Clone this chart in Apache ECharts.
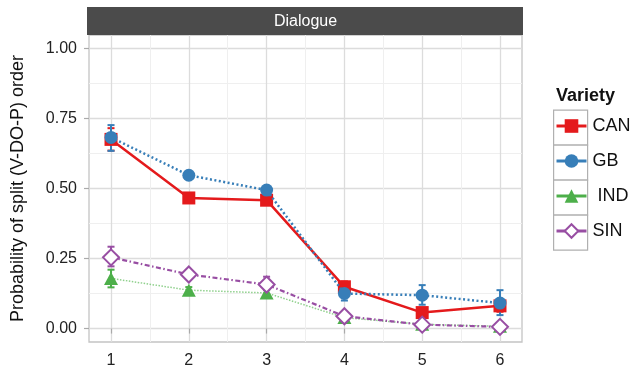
<!DOCTYPE html>
<html>
<head>
<meta charset="utf-8">
<script src="https://cdn.jsdelivr.net/npm/echarts@6/dist/echarts.min.js"></script>
<style>
  html, body { margin: 0; padding: 0; background: #fff; }
  #chart { width: 641px; height: 369px; }
</style>
</head>
<body>
<div id="chart"></div>
<script>
// Position in the dialogue (x) and estimated probability of the split order
const positions = [1, 2, 3, 4, 5, 6];
const varieties = ['CAN', 'GB', 'IND', 'SIN'];

const canValues = [0.675, 0.466, 0.458, 0.149, 0.057, 0.081];
const gbValues  = [0.682, 0.547, 0.494, 0.125, 0.119, 0.091];
const indValues = [0.179, 0.137, 0.127, 0.039, 0.015, 0.008];
const sinValues = [0.254, 0.193, 0.157, 0.044, 0.014, 0.006];

// Confidence interval bounds
const canLow  = [0.635, 0.455, 0.447, 0.128, 0.045, 0.060];
const canHigh = [0.715, 0.478, 0.470, 0.168, 0.070, 0.100];
const gbLow   = [0.634, 0.535, 0.478, 0.100, 0.085, 0.048];
const gbHigh  = [0.726, 0.558, 0.508, 0.148, 0.155, 0.137];
const indLow  = [0.147, 0.127, 0.118, 0.030, 0.008, 0.003];
const indHigh = [0.210, 0.148, 0.137, 0.048, 0.022, 0.014];
const sinLow  = [0.222, 0.180, 0.142, 0.035, 0.008, 0.002];
const sinHigh = [0.292, 0.206, 0.185, 0.055, 0.022, 0.012];

const yMajorTicks = [0, 0.25, 0.5, 0.75, 1];
const yMinorTicks = [0.125, 0.375, 0.625, 0.875];
const xMinorTicks = [1.5, 2.5, 3.5, 4.5, 5.5];

const panelTitle = 'Dialogue';
const yTitle = 'Probability of split (V-DO-P) order';
const legendTitle = 'Variety';

const colors = { CAN: '#e41a1c', GB: '#377eb8', IND: '#4daf4a', SIN: '#984ea3' };

const X_MIN = 0.717, X_MAX = 6.283;
const Y_MIN = -0.048, Y_MAX = 1.0475;
const FONT = '"Liberation Sans", Arial, sans-serif';

function pairs(vals) { return positions.map((p, i) => [p, vals[i]]); }

// Vertical interval bars with short caps, placed through the axes
function errorSeries(name, low, high, color) {
  return {
    type: 'custom',
    name: name + ' interval',
    xAxisIndex: 0, yAxisIndex: 0,
    silent: true,
    z: 3,
    data: positions.map((p, i) => [p, low[i], high[i]]),
    renderItem: function (params, api) {
      const lo = api.coord([api.value(0), api.value(1)]);
      const hi = api.coord([api.value(0), api.value(2)]);
      const hw = 3.5;
      const style = { stroke: color, lineWidth: 2, fill: null };
      return {
        type: 'group',
        children: [
          { type: 'line', shape: { x1: lo[0], y1: lo[1], x2: hi[0], y2: hi[1] }, style: style },
          { type: 'line', shape: { x1: lo[0] - hw, y1: lo[1], x2: lo[0] + hw, y2: lo[1] }, style: style },
          { type: 'line', shape: { x1: hi[0] - hw, y1: hi[1], x2: hi[0] + hw, y2: hi[1] }, style: style }
        ]
      };
    }
  };
}

const chart = echarts.init(document.getElementById('chart'), null, { renderer: 'canvas' });

const gridLeft = 89, gridTop = 35, gridRight = 641 - 522, gridBottom = 369 - 342;

// Key boxes around legend symbols
const keyBoxes = varieties.map((v, i) => ({
  type: 'rect',
  left: 553, top: 109.5 + 35 * i,
  shape: { width: 34, height: 35 },
  style: { fill: '#fff', stroke: '#b0b0b0', lineWidth: 1.2 },
  z: -1
}));

chart.setOption({
  backgroundColor: '#fff',
  animation: false,
  textStyle: { fontFamily: FONT },
  grid: {
    left: gridLeft, top: gridTop, right: gridRight, bottom: gridBottom,
    show: true, borderColor: '#c4c4c4', borderWidth: 1.3, backgroundColor: '#fff'
  },
  title: {
    text: legendTitle,
    left: 551, top: 82,
    textStyle: { fontFamily: FONT, fontSize: 18, fontWeight: 'bold', color: '#111' }
  },
  legend: {
    orient: 'vertical',
    left: 555, top: 116,
    itemWidth: 30, itemHeight: 17,
    itemGap: 15,
    padding: 0,
    data: varieties.map(v => ({ name: v, lineStyle: { color: colors[v] } })),
    lineStyle: { type: 'solid', width: 3 },
    formatter: function (n) { return n === 'IND' ? ' ' + n : n; },
    textStyle: { fontFamily: FONT, fontSize: 18, color: '#111', lineHeight: 20, padding: [0, 0, 0, 1] }
  },
  graphic: [
    {
      type: 'rect', left: 87, top: 7,
      shape: { width: 436, height: 28 },
      style: { fill: '#4b4b4b' }
    },
    {
      type: 'text', left: 274, top: 14,
      style: { text: panelTitle, fill: '#fff', font: '16px ' + FONT }
    }
  ].concat(keyBoxes),
  xAxis: [
    {
      type: 'value', min: X_MIN, max: X_MAX,
      axisLine: { show: false },
      axisTick: { show: true, length: 5, lineStyle: { color: '#aaa', width: 1.2 }, customValues: positions },
      axisLabel: { customValues: positions, margin: 11, fontSize: 16, color: '#222', fontFamily: FONT },
      splitLine: { show: true, lineStyle: { color: '#dcdcdc', width: 1.3 } }
    },
    {
      type: 'value', min: X_MIN, max: X_MAX, gridIndex: 0, position: 'bottom',
      axisLine: { show: false },
      axisTick: { show: false, customValues: xMinorTicks },
      axisLabel: { show: false, customValues: xMinorTicks },
      splitLine: { show: true, lineStyle: { color: '#efefef', width: 1 } }
    }
  ],
  yAxis: [
    {
      type: 'value', min: Y_MIN, max: Y_MAX,
      name: yTitle, nameLocation: 'middle', nameRotate: 90, nameGap: 62,
      nameTextStyle: { fontSize: 18, color: '#111', fontFamily: FONT },
      axisLine: { show: false },
      axisTick: { show: true, length: 5, lineStyle: { color: '#aaa', width: 1.2 }, customValues: yMajorTicks },
      axisLabel: {
        customValues: yMajorTicks, margin: 12, fontSize: 16, color: '#222', fontFamily: FONT,
        formatter: function (v) { return v.toFixed(2); }
      },
      splitLine: { show: true, lineStyle: { color: '#dcdcdc', width: 1.3 } }
    },
    {
      type: 'value', min: Y_MIN, max: Y_MAX, gridIndex: 0, position: 'left',
      axisLine: { show: false },
      axisTick: { show: false, customValues: yMinorTicks },
      axisLabel: { show: false, customValues: yMinorTicks },
      splitLine: { show: true, lineStyle: { color: '#efefef', width: 1 } }
    }
  ],
  series: [
    errorSeries('CAN', canLow, canHigh, colors.CAN),
    {
      name: 'CAN', type: 'line', data: pairs(canValues), z: 4,
      symbol: 'rect', symbolSize: 13,
      lineStyle: { color: colors.CAN, width: 2.5, type: 'solid' },
      itemStyle: { color: colors.CAN }
    },
    errorSeries('GB', gbLow, gbHigh, colors.GB),
    {
      name: 'GB', type: 'line', data: pairs(gbValues), z: 5,
      symbol: 'circle', symbolSize: 13,
      lineStyle: { color: colors.GB, width: 2.5, type: [2, 2.5] },
      itemStyle: { color: colors.GB }
    },
    errorSeries('IND', indLow, indHigh, colors.IND),
    {
      name: 'IND', type: 'line', data: pairs(indValues), z: 4,
      symbol: 'triangle', symbolSize: [14, 13],
      lineStyle: { color: '#8fd08c', width: 1.5, type: [1.5, 1.5] },
      itemStyle: { color: colors.IND }
    },
    errorSeries('SIN', sinLow, sinHigh, colors.SIN),
    {
      name: 'SIN', type: 'line', data: pairs(sinValues), z: 5,
      symbol: 'diamond', symbolSize: [16, 16],
      lineStyle: { color: colors.SIN, width: 2.2, type: [5, 2.5, 1.5, 2.5] },
      itemStyle: { color: '#fff', borderColor: colors.SIN, borderWidth: 2 }
    }
  ]
});
</script>
</body>
</html>
